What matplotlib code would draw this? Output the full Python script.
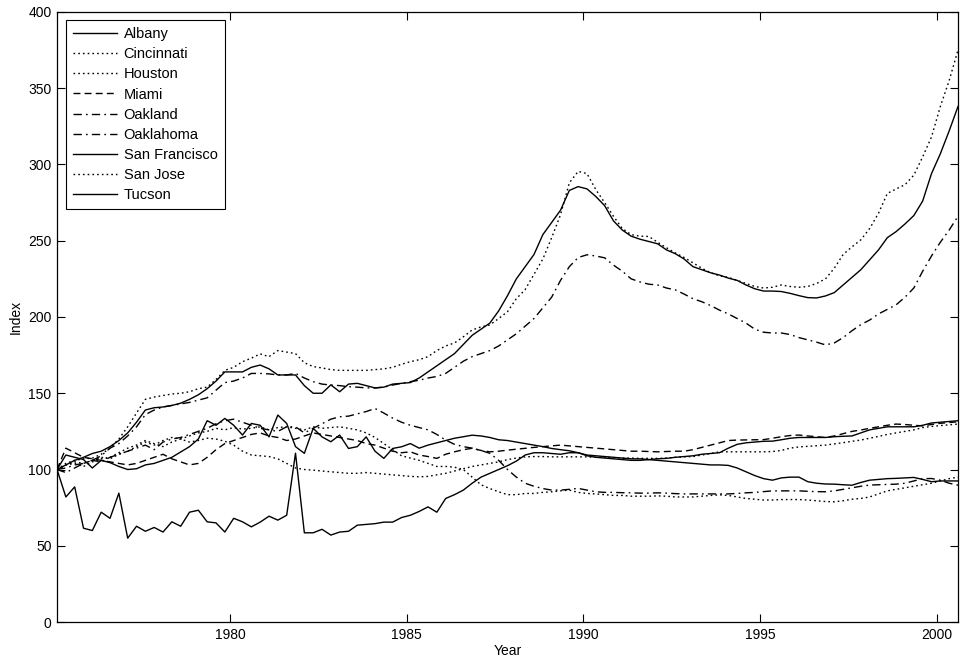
import numpy as np
import matplotlib
matplotlib.use("Agg")
import matplotlib.pyplot as plt

plt.rcParams['font.family'] = ['Liberation Sans', 'DejaVu Sans']

# quarterly observations
start_year = 1975.1
n_obs = 103
years = start_year + 0.25 * np.arange(n_obs)

albany = [100, 82, 88.6, 61.5, 60, 72, 68, 84.5, 55, 62.8, 59.5, 62, 59, 65.7, 62.8, 72, 73.3, 65.7, 65, 59,
          68, 65.7, 62.4, 65.5, 69.4, 66.8, 70, 110.7, 58.5, 58.5, 60.8, 57, 59, 59.5, 63.5, 64,
          64.5, 65.5, 65.5, 68.5, 70, 72.5, 75.5, 72, 81, 83.5, 86.5, 91, 95, 97.5, 100, 102.5, 105.5, 109.5,
          111, 111, 110.5, 110, 111, 111, 109, 108, 107.5, 107, 106.5, 106, 106, 106.5, 107, 107.3, 108, 108.5,
          109, 110, 110.5, 111, 114, 116.5, 117.5, 118, 118.5, 118.6, 119.5, 120.5, 121, 121, 121, 121, 121.5,
          121.8, 122, 124, 126, 127, 128, 128, 128, 128, 129, 130.5, 131, 131.5, 132]

cincinnati = [100, 103, 104, 102, 105, 107, 108, 111, 114, 116, 119, 117, 115, 118, 120, 118, 119, 120.5, 120, 118.5,
              116, 112, 109.5, 109, 108.5, 107, 104, 101, 100, 99.6, 99, 98.5, 98, 97.5, 97.5, 98, 97.5, 97, 96.5, 96,
              95.5, 95.2, 95.5, 96.5, 97.5, 99, 100.5, 102, 103, 104, 105, 106.5, 107.5, 108.3, 108.5, 108.5, 108.3,
              108.3, 108.3, 108.3, 108.3, 108, 108, 107.8, 107.5, 107.5, 107.3, 107.3, 107.3, 107.5, 108, 108.3,
              108.5, 109.5, 110.5, 111.6, 111.6, 111.6, 111.6, 111.6, 111.6, 111.8, 112.5, 114, 114.8, 115.2, 115.6,
              116, 116.8, 117.6, 118.5, 119.3, 120.5, 121.7, 123, 124, 125, 126, 127.5, 128.2, 128.8, 129.3, 129.8]

houston = [100, 103, 105, 104, 106, 108, 107, 110, 112, 115, 118, 116, 119, 121, 120, 122, 124, 125, 127, 126,
           127.5, 126.5, 127, 128, 126, 127.5, 128, 127, 126, 128, 127, 127.5, 128, 127, 126, 124, 121, 117, 113,
           109, 107.5, 106, 104, 102, 102, 101.5, 100, 95, 90, 87.5, 85.4, 83.5, 83.5, 84.3, 84.3, 85, 85.4, 86,
           86.5, 85, 84.3, 84, 83.5, 83, 83, 82.5, 82.5, 82.5, 82.7, 82.5, 82, 82, 82, 82.5, 83, 83.4, 83, 82, 81,
           80.5, 80, 80, 80.3, 80.3, 80.3, 80, 79.5, 79, 78.8, 79.5, 80.5, 81, 82, 84, 86, 87, 88, 89, 90, 91,
           92.5, 94, 95]

miami = [100, 114, 111, 108, 107, 106, 105, 104, 103, 104, 106, 108, 110, 107, 105, 103, 104, 108, 113, 117,
         119, 121, 123, 124, 122, 121, 119, 120, 122, 124, 123, 122, 121, 120, 119, 117, 116, 114, 112, 111,
         111.6, 109.5, 108.5, 107.3, 110, 111.6, 113, 113.9, 112.5, 111.6, 112, 112.7, 113.3, 113.9, 114.5, 115,
         115.5, 116, 115.5, 115, 114.5, 114, 113.5, 113, 112.5, 112, 112, 111.8, 111.6, 111.8, 112, 112, 113,
         114.5, 116, 117.5, 119, 119.3, 119.4, 119.5, 119.6, 120.5, 121.5, 122.3, 122.6, 122, 121.5, 121, 122,
         123.5, 125, 125.9, 127, 128, 129, 129.8, 129.5, 129, 128.6, 129.5, 130.3, 130.8, 131.3]

oakland = [100, 101, 103, 104, 106, 109, 114, 117, 122, 128, 136, 139, 141, 142, 143, 144, 145.5, 147, 152, 157,
           158, 160, 163, 163, 162.7, 162, 162, 163, 160, 157.6, 156, 155.4, 155, 154.3, 154, 153.5, 153.5, 154,
           155.4, 156.5, 157.6, 158.5, 160, 161, 163, 167, 171, 174, 176, 178, 181, 185, 189, 194, 199, 206, 213,
           224, 233, 239, 240.8, 240, 238.8, 234, 230, 225, 223, 221.5, 221, 219, 217.8, 215, 212, 210, 207.5,
           204.5, 202, 199, 196, 192, 190, 189.5, 189.5, 188.5, 186.5, 185, 183.5, 181.7, 183, 186.5, 191, 195,
           198, 202, 205, 208, 213, 219, 230, 240, 249, 257, 266]

oklahoma = [100, 98, 101, 104, 106, 105, 108, 110, 112, 114, 116, 113, 118, 120, 121, 123, 125, 127, 130, 132,
            133, 131, 129, 127, 126, 125, 128, 128, 124, 127, 130, 133, 134.6, 135, 136.5, 138, 140, 137, 133.7,
            131, 129, 127.5, 126, 123, 119.3, 116.5, 115, 114, 112.5, 110.6, 106, 100, 95, 91, 89, 87.5, 86.5,
            86.5, 87, 87.6, 86.5, 85.4, 85, 85, 84.8, 84.7, 84.5, 84.5, 84.7, 84.5, 84.2, 84, 84, 84, 84, 84, 84,
            84.3, 84.7, 85, 85.5, 86, 86, 86, 86, 85.7, 85.5, 85.4, 86, 87, 88, 89, 89.8, 90, 90.2, 90.4, 91, 92.5,
            94, 94.1, 93, 91, 89.7]

san_francisco = [100, 103, 106, 108, 110.5, 112, 115, 119, 124, 131, 139, 140.5, 141, 142, 143.5, 146, 149, 153,
                 158, 164, 164, 164, 167, 168.5, 166, 162, 162, 162, 155, 150, 150, 155.5, 151, 156, 156.5, 155,
                 153.5, 154, 156, 156.5, 157, 160, 164, 168, 172, 176, 182, 188, 192, 196, 204, 214, 225, 233,
                 241, 254, 262, 270, 283, 285.5, 284, 279, 273, 263, 257, 253, 251, 249.5, 248, 244, 241.5, 238,
                 233, 231, 229, 227.5, 225.5, 224, 221, 218.5, 217, 217, 216.7, 215.5, 214, 212.7, 212.5, 213.8,
                 216, 221, 226, 231, 237.5, 244, 252, 256, 261, 266.5, 276, 294, 307, 322, 338]

san_jose = [100, 104, 106, 107, 107.5, 110, 114, 120, 128, 137, 146, 147.5, 148.5, 149.5, 150, 151, 153, 154, 159,
            165, 167, 170.7, 173, 175.8, 174, 178, 177, 176, 170, 167.5, 166.6, 165.5, 165, 165, 165, 165, 165.5,
            166, 167, 169, 170.7, 172, 174, 178, 181, 183, 187, 191.5, 193.5, 194.8, 199, 203.5, 212, 218, 228,
            238, 252, 267, 288, 295.5, 294, 283.5, 275, 266, 258, 254, 253, 252.8, 249, 245.4, 242, 239, 235.5,
            232, 229, 227, 226, 224, 222, 220, 219, 219.5, 221, 220, 219.5, 220, 222, 225, 232, 241, 246, 250.6,
            258, 268, 281, 284, 286.7, 293, 305, 318, 338, 355, 375]

tucson = [100, 109.5, 108, 106.5, 101, 106, 104.5, 102, 100, 100.5, 103, 104, 106, 108, 111.5, 115, 120, 132, 129,
          133.5, 129, 122.6, 130.2, 129, 121.4, 135.7, 130.2, 115, 110.6, 127, 121.4, 118.2, 122.6, 113.8, 115,
          121.4, 112, 107.3, 113.8, 114.9, 117, 114, 116, 117.5, 119, 120.5, 121.5, 122.5, 122, 121, 119.5, 119,
          118, 117, 116, 115, 113.8, 113, 112.3, 111, 109.5, 109, 108.5, 108, 107.5, 107, 107, 106.5, 106, 105.5,
          105, 104.5, 104, 103.5, 103, 103, 102.7, 101, 98.5, 96, 94, 93, 94.5, 95, 95, 92, 91, 90.5, 90.4, 90,
          89.7, 91.5, 93, 93.5, 94, 94.2, 94.5, 94.8, 93.5, 92, 92.5, 92.5, 92.5]

series_names = ["Albany", "Cincinnati", "Houston", "Miami", "Oakland", "Oaklahoma",
                "San Francisco", "San Jose", "Tucson"]
series_values = [albany, cincinnati, houston, miami, oakland, oklahoma, san_francisco, san_jose, tucson]

styles = {
    "Albany": "-",
    "Cincinnati": (0, (1.2, 2.2)),
    "Houston": (0, (1.2, 2.2)),
    "Miami": (0, (5, 3)),
    "Oakland": (0, (6, 3, 1.2, 3)),
    "Oaklahoma": (0, (6, 3, 1.2, 3)),
    "San Francisco": "-",
    "San Jose": (0, (1.2, 2.2)),
    "Tucson": "-",
}

fig = plt.figure(figsize=(9.6, 6.62), dpi=100)
ax = fig.add_axes([0.0594, 0.0604, 0.9385, 0.9215])

for name, vals in zip(series_names, series_values):
    ax.plot(years, vals, color="black", linewidth=1.0, linestyle=styles[name], label=name)

ax.set_xlim(start_year, years[-1])
ax.set_ylim(0, 400)
ax.set_xticks([1980, 1985, 1990, 1995, 2000])
ax.set_yticks(np.arange(0, 401, 50))
ax.tick_params(direction="in", top=True, right=True, length=5.5, width=0.8, labelsize=10, pad=4)
for sp in ax.spines.values():
    sp.set_linewidth(0.9)
ax.set_xlabel("Year", fontsize=10, labelpad=2)
ax.set_ylabel("Index", fontsize=10, labelpad=4)

leg = ax.legend(loc="upper left", bbox_to_anchor=(0.01, 0.987), borderaxespad=0.0, fontsize=10.5,
                handlelength=3.0, handletextpad=0.45, labelspacing=0.42, borderpad=0.5, fancybox=False,
                edgecolor="black", framealpha=1)
leg.get_frame().set_linewidth(0.8)

fig.savefig("out.png", dpi=100)
